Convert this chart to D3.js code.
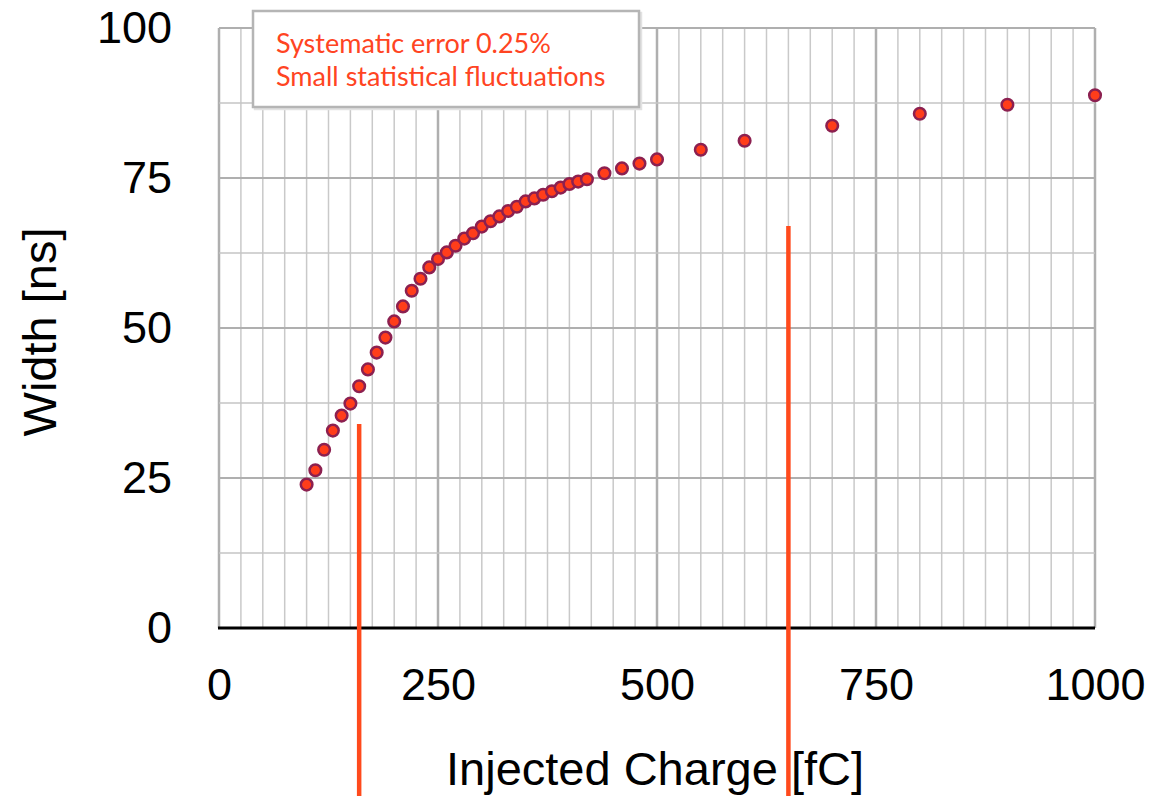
<!DOCTYPE html>
<html>
<head>
<meta charset="utf-8">
<script src="https://cdn.jsdelivr.net/npm/d3@7"></script>
<style>
  body { margin: 0; background: #fff; }
  svg { display: block; }
</style>
</head>
<body>
<div id="chart"></div>
<script>
// measured points
const charge = [100, 110, 120, 130, 140, 150, 160, 170, 180, 190,
  200, 210, 220, 230, 240, 250, 260, 270, 280, 290,
  300, 310, 320, 330, 340, 350, 360, 370, 380, 390,
  400, 410, 420, 440, 460, 480, 500, 550, 600, 700, 800, 900, 1000];
const widthNs = [23.9, 26.3, 29.7, 32.9, 35.4, 37.4, 40.3, 43.1, 45.9, 48.4,
  51.1, 53.6, 56.2, 58.2, 60.1, 61.5, 62.6, 63.7, 64.9, 65.8,
  66.9, 67.8, 68.6, 69.5, 70.2, 71.1, 71.6, 72.2, 72.8, 73.4,
  74.0, 74.4, 74.8, 75.8, 76.6, 77.4, 78.1, 79.7, 81.2, 83.7, 85.7, 87.2, 88.8];

const xTicks = [0, 250, 500, 750, 1000];
const yTicks = [0, 25, 50, 75, 100];

// orange marker lines (charge, top value in ns)
const markerCharge = [160, 650];
const markerTop = [34, 67];

const legendLines = ["Systematic error 0.25%", "Small statistical fluctuations"];

const W = 1151, H = 796;
const margin = { top: 28, right: 56, bottom: 168, left: 219 };
const innerW = W - margin.left - margin.right;
const innerH = H - margin.top - margin.bottom;

const svg = d3.select("#chart").append("svg")
  .attr("width", W)
  .attr("height", H);

const g = svg.append("g")
  .attr("transform", `translate(${margin.left},${margin.top})`);

const x = d3.scaleLinear().domain([0, 1000]).range([0, innerW]);
const y = d3.scaleLinear().domain([0, 100]).range([innerH, 0]);

// grid
const vLines = d3.range(0, 1001, 25);
g.append("g").selectAll("line")
  .data(vLines)
  .enter().append("line")
  .attr("x1", d => x(d)).attr("x2", d => x(d))
  .attr("y1", 0).attr("y2", innerH)
  .attr("stroke", d => d % 250 === 0 ? "#afafaf" : "#c9c9c9")
  .attr("stroke-width", d => d % 250 === 0 ? 2.5 : 1.5);

const hLines = d3.range(12.5, 100.1, 12.5);
g.append("g").selectAll("line")
  .data(hLines)
  .enter().append("line")
  .attr("x1", 0).attr("x2", innerW)
  .attr("y1", d => y(d)).attr("y2", d => y(d))
  .attr("stroke", d => d % 25 === 0 ? "#afafaf" : "#c4c4c4")
  .attr("stroke-width", d => d % 25 === 0 ? 2.2 : 1.6);

// x axis baseline
g.append("line")
  .attr("x1", -1).attr("x2", innerW)
  .attr("y1", y(0)).attr("y2", y(0))
  .attr("stroke", "#000")
  .attr("stroke-width", 3);

// tick labels
const font = "'Liberation Sans', Arial, Helvetica, sans-serif";
const xAxis = d3.axisBottom(x).tickValues(xTicks).tickFormat(d3.format("d"))
  .tickSize(0).tickPadding(40);
g.append("g")
  .attr("transform", `translate(0,${innerH})`)
  .call(xAxis)
  .call(s => s.select(".domain").remove())
  .selectAll("text")
  .attr("font-family", font)
  .attr("font-size", 45)
  .attr("fill", "#000");

const yAxis = d3.axisLeft(y).tickValues(yTicks).tickFormat(d3.format("d"))
  .tickSize(0).tickPadding(47);
g.append("g")
  .call(yAxis)
  .call(s => s.select(".domain").remove())
  .selectAll("text")
  .attr("font-family", font)
  .attr("font-size", 45)
  .attr("fill", "#000");

// axis titles
svg.append("text")
  .attr("x", margin.left + innerW / 2 - 2)
  .attr("y", 785)
  .attr("text-anchor", "middle")
  .attr("font-family", font)
  .attr("font-size", 47)
  .text("Injected Charge [fC]");

svg.append("text")
  .attr("transform", `translate(56,${margin.top + innerH / 2 + 4}) rotate(-90)`)
  .attr("text-anchor", "middle")
  .attr("font-family", font)
  .attr("font-size", 47)
  .text("Width [ns]");

// legend box
const box = { x: 253, y: 11, w: 386, h: 96 };
svg.append("rect")
  .attr("x", box.x + 2).attr("y", box.y + 2)
  .attr("width", box.w).attr("height", box.h)
  .attr("fill", "none")
  .attr("stroke", "#e2e2e2")
  .attr("stroke-width", 2.5);
svg.append("rect")
  .attr("x", box.x).attr("y", box.y)
  .attr("width", box.w).attr("height", box.h)
  .attr("fill", "#fff")
  .attr("stroke", "#b5b5b5")
  .attr("stroke-width", 2.5);

svg.append("g").selectAll("text")
  .data(legendLines)
  .enter().append("text")
  .attr("x", box.x + 23)
  .attr("y", (d, i) => box.y + 42 + i * 33)
  .attr("font-family", "Lato, 'Open Sans', sans-serif")
  .attr("font-size", 27)
  .attr("fill", "#ff4422")
  .text(d => d);

// data points
g.append("g").selectAll("circle")
  .data(charge.map((c, i) => ({ c, w: widthNs[i] })))
  .enter().append("circle")
  .attr("cx", d => x(d.c))
  .attr("cy", d => y(d.w))
  .attr("r", 5.8)
  .attr("fill", "#ff3d1a")
  .attr("stroke", "#8c2050")
  .attr("stroke-width", 2.5);

// orange marker lines running off the bottom of the page
g.append("g").selectAll("line")
  .data(markerCharge.map((c, i) => ({ c, top: markerTop[i] })))
  .enter().append("line")
  .attr("x1", d => x(d.c)).attr("x2", d => x(d.c))
  .attr("y1", d => y(d.top))
  .attr("y2", H - margin.top + 5)
  .attr("stroke", "#ff4a1c")
  .attr("stroke-width", 4.5);
</script>
</body>
</html>
